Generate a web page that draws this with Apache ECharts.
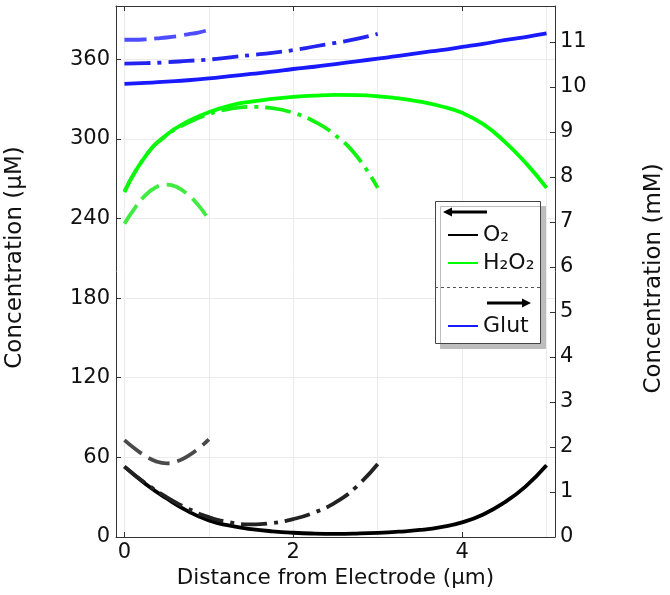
<!DOCTYPE html>
<html>
<head>
<meta charset="utf-8">
<script src="https://cdn.jsdelivr.net/npm/echarts@6/dist/echarts.min.js"></script>
<style>
html, body { margin: 0; padding: 0; background: #fff; }
#chart { width: 670px; height: 595px; }
</style>
</head>
<body>
<div id="chart"></div>
<script>
// distance from electrode (µm)
const xFull = [0, 0.25, 0.5, 0.75, 1, 1.25, 1.5, 1.75, 2, 2.25, 2.5, 2.75, 3, 3.25, 3.5, 3.75, 4, 4.25, 4.5, 4.75, 5];
const xMid = [0, 0.25, 0.5, 0.75, 1, 1.25, 1.5, 1.75, 2, 2.25, 2.5, 2.75, 3];
const xShort = [0, 0.125, 0.25, 0.375, 0.5, 0.625, 0.75, 0.875, 1];

// O2 (µM, left axis)
const o2Full = [53, 40, 29, 19.5, 12.5, 8.5, 6, 4.3, 3.2, 2.6, 2.4, 2.6, 3.1, 4.0, 5.3, 7.5, 11, 17, 26, 38, 54];
const o2Mid = [53, 40.5, 30, 21.5, 15, 11, 9.5, 10.5, 13.5, 18.5, 26, 38, 55];
const o2Short = [73, 66.5, 61, 57, 55.5, 57, 61, 66.5, 73.5];

// H2O2 (µM, left axis)
const h2o2Full = [260, 287, 303, 313, 320, 325, 328, 330, 331.5, 332.5, 333, 332.8, 332, 330.5, 328, 324.5, 319.5, 311, 298, 282, 263];
const h2o2Mid = [260, 287, 302.5, 312, 318.5, 322.5, 324, 323, 319.5, 313, 302.5, 287, 263];
const h2o2Short = [236, 248, 257.5, 263.5, 265.5, 263.5, 258, 250, 239];

// Glut (mM, right axis)
const glutFull = [10.07, 10.09, 10.12, 10.15, 10.19, 10.24, 10.29, 10.34, 10.40, 10.45, 10.51, 10.57, 10.63, 10.69, 10.76, 10.82, 10.89, 10.96, 11.04, 11.11, 11.19];
const glutMid = [10.52, 10.53, 10.55, 10.58, 10.61, 10.66, 10.71, 10.76, 10.82, 10.9, 10.98, 11.07, 11.18];
const glutShort = [11.05, 11.05, 11.06, 11.08, 11.10, 11.13, 11.17, 11.21, 11.27];

const FONT = 'DejaVu Sans';
const DASH = [22, 8];
const DASHDOT = [26, 7, 4, 7];

function pts(xs, ys) {
  return xs.map(function (x, i) { return [x, ys[i]]; });
}

function line(name, xs, ys, yIdx, color, type) {
  return {
    name: name,
    type: 'line',
    xAxisIndex: 0,
    yAxisIndex: yIdx,
    data: pts(xs, ys),
    smooth: true,
    showSymbol: false,
    silent: true,
    lineStyle: { color: color, width: 3.8, type: type, cap: 'butt' },
    itemStyle: { color: color },
  };
}

const chart = echarts.init(document.getElementById('chart'));

const tickStyle = { show: true, inside: true, length: 5, lineStyle: { color: '#333' } };
const axisLineStyle = { show: true, onZero: false, lineStyle: { color: '#333', width: 1 } };

const option = {
  animation: false,
  grid: { left: 116, right: 115, top: 6, bottom: 58, containLabel: false, outerBoundsMode: 'none' },
  textStyle: { fontFamily: FONT },
  xAxis: [
    {
      type: 'value', position: 'bottom', min: -0.1, max: 5.1, splitNumber: 3,
      axisLine: axisLineStyle,
      axisTick: tickStyle,
      splitLine: { show: false },
      axisLabel: { fontSize: 21, color: '#111', margin: 5, fontFamily: FONT, showMinLabel: false, showMaxLabel: false },
      name: 'Distance from Electrode (µm)',
      nameLocation: 'middle', nameGap: 29,
      nameTextStyle: { fontSize: 21.5, color: '#111', fontFamily: FONT },
    },
    {
      type: 'value', position: 'bottom', min: -0.1, max: 5.1, splitNumber: 5,
      axisLine: { show: false, onZero: false }, axisTick: { show: false }, axisLabel: { show: false },
      splitLine: { show: true, lineStyle: { color: '#ebebeb', width: 1 } },
    },
    {
      type: 'value', position: 'top', min: -0.1, max: 5.1, splitNumber: 3,
      axisLine: axisLineStyle, axisTick: tickStyle, axisLabel: { show: false },
      splitLine: { show: false },
    },
  ],
  yAxis: [
    {
      type: 'value', position: 'left', min: 0, max: 400, interval: 60,
      axisLine: axisLineStyle,
      axisTick: tickStyle,
      splitLine: { show: true, lineStyle: { color: '#ebebeb', width: 1 } },
      axisLabel: { fontSize: 21, color: '#111', margin: 6, fontFamily: FONT, showMaxLabel: false },
      name: 'Concentration (µM)',
      nameLocation: 'middle', nameGap: 89,
      nameTextStyle: { fontSize: 23, color: '#111', fontFamily: FONT, padding: [0, 0, 0, 28] },
    },
    {
      type: 'value', position: 'right', min: 0, max: 11.8, interval: 1,
      axisLine: axisLineStyle,
      axisTick: tickStyle,
      splitLine: { show: false },
      axisLabel: { fontSize: 21, color: '#111', margin: 5, fontFamily: FONT, showMaxLabel: false },
      name: 'Concentration (mM)',
      nameLocation: 'middle', nameGap: 88,
      nameTextStyle: { fontSize: 23, color: '#111', fontFamily: FONT, padding: [0, 14, 0, 0] },
    },
  ],
  legend: [
    {
      data: ['O₂', 'H₂O₂'],
      orient: 'vertical', left: 443, top: 219,
      icon: 'rect', itemWidth: 30, itemHeight: 2, itemGap: 6,
      selectedMode: false, z: 10,
      textStyle: { fontSize: 22, color: '#111', fontFamily: FONT },
    },
    {
      data: ['Glut'],
      orient: 'vertical', left: 443, top: 310,
      icon: 'rect', itemWidth: 30, itemHeight: 2,
      selectedMode: false, z: 10,
      textStyle: { fontSize: 22, color: '#111', fontFamily: FONT },
    },
  ],
  graphic: [
    {
      type: 'rect', left: 435, top: 201, z: 5,
      shape: { width: 105, height: 142 },
      style: { fill: '#fff', stroke: '#444', lineWidth: 1, shadowColor: '#bdbdbd', shadowOffsetX: 5, shadowOffsetY: 5, shadowBlur: 0 },
    },
    {
      type: 'line', z: 6,
      shape: { x1: 435, y1: 287.5, x2: 540, y2: 287.5 },
      style: { stroke: '#555', lineWidth: 1, lineDash: [3, 3] },
    },
    {
      type: 'line', z: 6,
      shape: { x1: 450, y1: 212, x2: 487, y2: 212 },
      style: { stroke: '#000', lineWidth: 3 },
    },
    {
      type: 'polygon', z: 6,
      shape: { points: [[443, 212], [452, 207.5], [452, 216.5]] },
      style: { fill: '#000' },
    },
    {
      type: 'line', z: 6,
      shape: { x1: 487, y1: 303, x2: 524, y2: 303 },
      style: { stroke: '#000', lineWidth: 3 },
    },
    {
      type: 'polygon', z: 6,
      shape: { points: [[531, 303], [522, 298.5], [522, 307.5]] },
      style: { fill: '#000' },
    },
  ],
  series: [
    line('Glut', xFull, glutFull, 1, '#1a1aff', 'solid'),
    line('Glut dash-dot', xMid, glutMid, 1, '#2424f0', DASHDOT),
    line('Glut dashed', xShort, glutShort, 1, '#4d4dff', DASH),
    line('H₂O₂', xFull, h2o2Full, 0, '#00ff00', 'solid'),
    line('H₂O₂ dash-dot', xMid, h2o2Mid, 0, '#12f312', DASHDOT),
    line('H₂O₂ dashed', xShort, h2o2Short, 0, '#40ec40', DASH),
    line('O₂', xFull, o2Full, 0, '#000000', 'solid'),
    line('O₂ dash-dot', xMid, o2Mid, 0, '#222222', DASHDOT),
    line('O₂ dashed', xShort, o2Short, 0, '#4a4a4a', DASH),
  ],
};

chart.setOption(option);
</script>
</body>
</html>
